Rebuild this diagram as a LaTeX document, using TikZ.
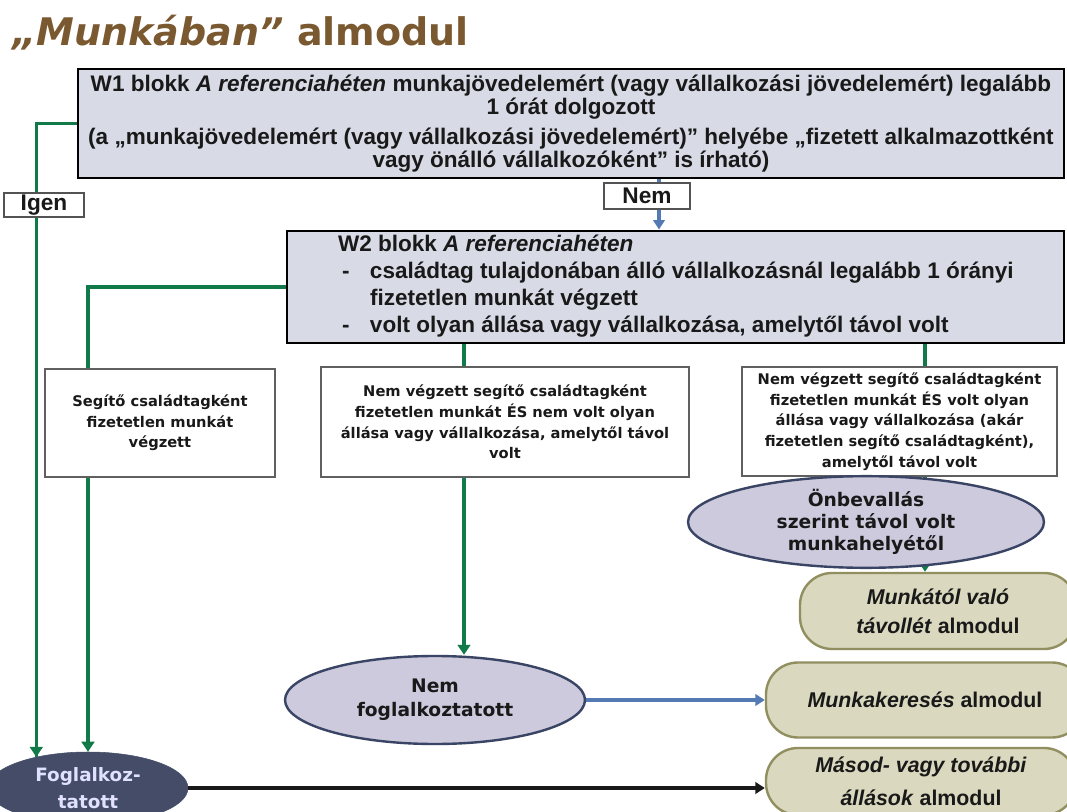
\documentclass[tikz,border=0pt]{standalone}
\usepackage{fontspec}
\setmainfont{Liberation Sans}
\newfontfamily\vfont{DejaVu Sans}
\usetikzlibrary{arrows.meta,shapes.geometric}
\definecolor{grn}{RGB}{18,122,72}
\definecolor{blu}{RGB}{84,122,180}
\definecolor{wfill}{RGB}{216,219,230}
\definecolor{lav}{RGB}{204,202,220}
\definecolor{edge}{RGB}{58,68,100}
\definecolor{dark}{RGB}{68,76,104}
\definecolor{khaki}{RGB}{218,216,190}
\definecolor{olive}{RGB}{145,143,95}
\definecolor{brown}{RGB}{122,88,48}
\definecolor{txt}{RGB}{25,25,25}
\tikzset{
 gline/.style={draw=grn, line width=2.6pt},
 garrow/.style={gline, -{Triangle[width=9.5pt,length=7.5pt]}},
 barrow/.style={draw=blu, line width=2.4pt, -{Triangle[width=8.5pt,length=7pt]}},
 karrow/.style={draw=black!90, line width=2.4pt, -{Triangle[width=8.5pt,length=7pt]}},
 wbox/.style={rectangle, draw=black, line width=2.2pt, fill=wfill, inner sep=0pt, text=txt},
 gbox/.style={rectangle, draw=gray!75!black, line width=1.3pt, fill=white, inner sep=0pt, align=center, text=txt,
   font=\vfont\bfseries\fontsize{11}{15.5}\selectfont},
 lbl/.style={rectangle, draw=gray!65!black, line width=1.3pt, fill=white, inner sep=0pt, text=txt,
   font=\bfseries\fontsize{17}{18}\selectfont},
 oval/.style={ellipse, draw=edge, line width=1.8pt, fill=lav, inner sep=0pt, align=center, text=txt},
 kbox/.style={rectangle, rounded corners=24pt, draw=olive, line width=1.8pt, fill=khaki, inner sep=0pt,
   align=center, text=txt, font=\bfseries\fontsize{16}{22}\selectfont},
}
\begin{document}
\begin{tikzpicture}[x=0.75pt,y=-0.75pt]
\useasboundingbox (0,0) rectangle (1067,812);
\clip (0,0) rectangle (1067,812);

% title
\node[anchor=base west, inner sep=0pt, text=brown, font=\vfont\bfseries\fontsize{28.5}{32}\selectfont] (title) at (12,46)
  {\itshape „Munkában”\upshape{} almodul};

% W1 block
\node[wbox, minimum width=739.5pt, minimum height=81.75pt, align=center,
  font=\bfseries\fontsize{16.9}{17.6}\selectfont] (W1) at (571,123.5)
  {W1 blokk \textit{A referenciahéten} munkajövedelemért (vagy vállalkozási jövedelemért) legalább\\
   1 órát dolgozott\\[4.5pt]
   (a „munkajövedelemért (vagy vállalkozási jövedelemért)” helyébe „fizetett alkalmazottként\\
   vagy önálló vállalkozóként” is írható)};

% W2 block
\node[wbox, minimum width=582.75pt, minimum height=84pt,
  font=\bfseries\fontsize{16.9}{20.25}\selectfont] (W2) at (675.5,287)
  {\makebox[506.25pt][l]{\begin{tabular}{@{}l@{}}
   W2 blokk \textit{A referenciahéten}\\
   \makebox[24pt][l]{\hspace{3pt}-}családtag tulajdonában álló vállalkozásnál legalább 1 órányi\\
   \hspace{24pt}fizetetlen munkát végzett\\
   \makebox[24pt][l]{\hspace{3pt}-}volt olyan állása vagy vállalkozása, amelytől távol volt
  \end{tabular}}};

% boxes
\node[gbox, minimum width=172.5pt, minimum height=81pt] (S) at (160,423)
  {Segítő családtagként\\ fizetetlen munkát\\ végzett};
\node[gbox, minimum width=276pt, minimum height=82.5pt] (M) at (505,422)
  {Nem végzett segítő családtagként\\ fizetetlen munkát ÉS nem volt olyan\\ állása vagy vállalkozása, amelytől távol\\ volt};
\node[gbox, minimum width=236.25pt, minimum height=81.75pt] (R) at (899.5,421.5)
  {Nem végzett segítő családtagként\\ fizetetlen munkát ÉS volt olyan\\ állása vagy vállalkozása (akár\\ fizetetlen segítő családtagként),\\ amelytől távol volt};

% end nodes
\node[kbox, minimum width=207pt, minimum height=57pt] (MT) at (938,611)
  {\textit{Munkától való}\\ \textit{távollét} almodul};
\node[kbox, minimum width=238.5pt, minimum height=56.25pt] (MK) at (925,700)
  {\textit{Munkakeresés} almodul};
\node[kbox, minimum width=232.5pt, minimum height=50.25pt, font=\bfseries\fontsize{16}{24.75}\selectfont] (MV) at (921,781.5)
  {\textit{Másod- vagy további}\\ \textit{állások} almodul};

\node[oval, minimum width=225pt, minimum height=66pt, font=\vfont\bfseries\fontsize{14}{18}\selectfont] (NF) at (435,700)
  {Nem\\ foglalkoztatott};
\node[ellipse, draw=dark, fill=dark, inner sep=0pt, minimum width=150pt, minimum height=54pt, align=center,
  text=white!88!blue, font=\vfont\bfseries\fontsize{13.8}{20}\selectfont] (F) at (88,788)
  {Foglalkoz-\\ tatott};

% helper x positions
\coordinate (mx) at (464,0);
\coordinate (rx) at (925,0);
\coordinate (nx) at (659,0);

% connectors
\draw[gline] (W1.west) -| (F.149);
\draw[garrow] (F.149 |- 0,700) -- (F.149);
\draw[gline] (W2.west) -| (S.north -| F.north);
\draw[garrow] (S.south -| F.north) -- (F.north);
\draw[gline] (W2.south -| mx) -- (M.north -| mx);
\draw[garrow] (M.south -| mx) -- (NF.north -| mx);
\draw[gline] (W2.south -| rx) -- (R.north -| rx);
\draw[garrow] (R.south -| rx) -- (MT.north -| rx);
\draw[barrow] (W1.south -| nx) -- (W2.north -| nx);
\draw[barrow] (NF.east) -- (MK.west |- NF.east);
\draw[karrow] (F.east) -- (MV.west |- F.east);

\node[oval, minimum width=267pt, minimum height=52.5pt, font=\vfont\bfseries\fontsize{14}{16.3}\selectfont] (OB) at (866,522)
  {Önbevallás\\ szerint távol volt\\ munkahelyétől};

% labels
\node[lbl, minimum width=60pt, minimum height=18pt] (igen) at (44,205) {Igen};
\node[lbl, minimum width=64.5pt, minimum height=19.5pt] (nem) at (647,196) {Nem};
\end{tikzpicture}
\end{document}
